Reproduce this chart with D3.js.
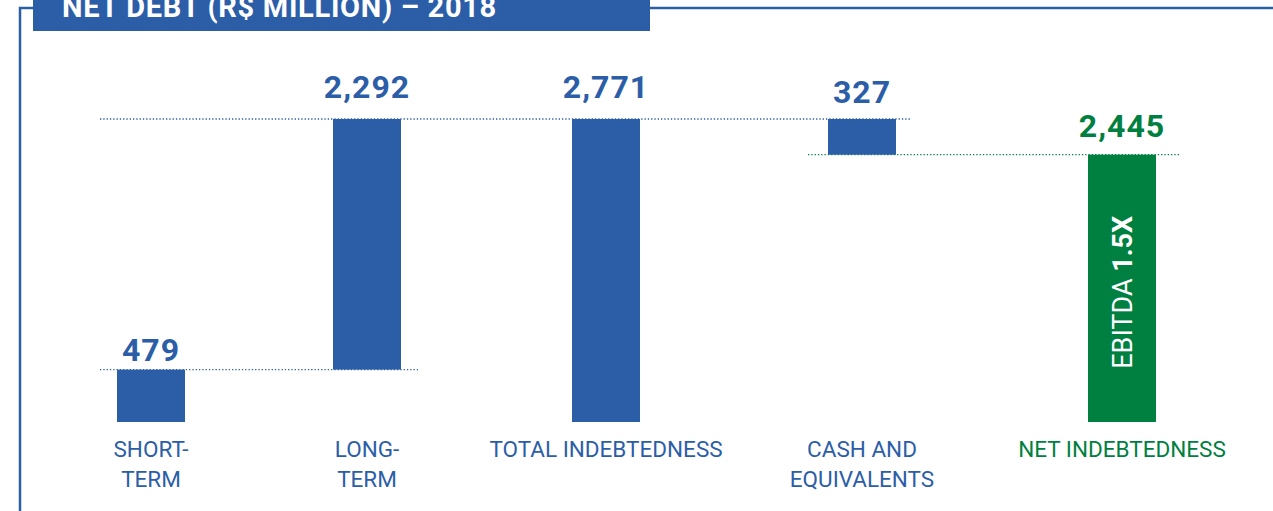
<!DOCTYPE html>
<html>
<head>
<meta charset="utf-8">
<script src="https://cdn.jsdelivr.net/npm/d3@7"></script>
<style>
  body { margin: 0; background: #fff; }
  svg { display: block; font-family: Roboto, "DejaVu Sans", sans-serif; }
</style>
</head>
<body>
<svg width="1273" height="511"></svg>
<script>
// Data
const categories = ["SHORT-TERM", "LONG-TERM", "TOTAL INDEBTEDNESS", "CASH AND EQUIVALENTS", "NET INDEBTEDNESS"];
const labelLines = [["SHORT-", "TERM"], ["LONG-", "TERM"], ["TOTAL INDEBTEDNESS"], ["CASH AND", "EQUIVALENTS"], ["NET INDEBTEDNESS"]];
const values = [479, 2292, 2771, 327, 2445];
const valueLabels = ["479", "2,292", "2,771", "327", "2,445"];
const kinds = ["up", "up", "total", "down", "net"];

const blue = "#2c5ea8", green = "#008040";

const svg = d3.select("svg");

// Frame + title
svg.append("path")
    .attr("d", "M20,511 V8 H40 M640,8 H1273")
    .attr("fill", "none")
    .attr("stroke", blue)
    .attr("stroke-width", 2.5);
svg.append("rect")
    .attr("x", 33).attr("y", -2).attr("width", 617).attr("height", 33)
    .attr("fill", blue);
svg.append("text")
    .attr("x", 62).attr("y", 17)
    .attr("fill", "#fff")
    .attr("font-weight", "bold")
    .attr("font-size", 29)
    .attr("letter-spacing", 0.7)
    .text("NET DEBT (R$ MILLION) – 2018");

// Compute waterfall spans
let running = 0;
const bars = values.map(function(v, i) {
    let y0, y1;
    if (kinds[i] === "up") { y0 = running; y1 = running + v; running = y1; }
    else if (kinds[i] === "total") { y0 = 0; y1 = running; }
    else if (kinds[i] === "down") { y1 = running; y0 = running - v; running = y0; }
    else { y0 = 0; y1 = v; }
    return {cat: categories[i], v: v, label: valueLabels[i], lines: labelLines[i], y0: y0, y1: y1, kind: kinds[i]};
});

// Scales
const xScale = d3.scaleOrdinal()
    .domain(categories)
    .range([151, 367, 606, 862, 1122]);
const barW = 68;
const yScale = d3.scaleLinear()
    .domain([0, d3.max(values)])
    .range([422, 119]);

const colorOf = function(d) { return d.kind === "net" ? green : blue; };
const labelGap = [9, 21, 21, 16, 18]; // distance of value label above bar top

// Dotted connector lines
const connectors = [
    {v: bars[0].y1, from: 0, to: 1, color: blue, l: 17, r: 17},
    {v: bars[2].y1, from: 0, to: 3, color: blue, l: 17, r: 14},
    {v: bars[4].y1, from: 3, to: 4, color: green, l: 20, r: 24}
];
svg.selectAll("line.conn")
    .data(connectors)
    .enter()
    .append("line")
    .attr("class", "conn")
    .attr("x1", function(d) { return xScale(categories[d.from]) - barW / 2 - d.l; })
    .attr("x2", function(d) { return xScale(categories[d.to]) + barW / 2 + d.r; })
    .attr("y1", function(d) { return yScale(d.v); })
    .attr("y2", function(d) { return yScale(d.v); })
    .attr("stroke", function(d) { return d.color; })
    .attr("stroke-width", 1.3)
    .attr("stroke-dasharray", "1.3,2");

// Bars
svg.selectAll("rect.bar")
    .data(bars)
    .enter()
    .append("rect")
    .attr("class", "bar")
    .attr("x", function(d) { return xScale(d.cat) - barW / 2; })
    .attr("y", function(d) { return yScale(d.y1); })
    .attr("width", barW)
    .attr("height", function(d) { return yScale(d.y0) - yScale(d.y1); })
    .attr("fill", colorOf);

// Value labels
svg.selectAll("text.val")
    .data(bars)
    .enter()
    .append("text")
    .attr("class", "val")
    .attr("x", function(d) { return xScale(d.cat); })
    .attr("y", function(d, i) { return yScale(d.y1) - labelGap[i]; })
    .attr("text-anchor", "middle")
    .attr("font-size", 32)
    .attr("font-weight", "bold")
    .attr("letter-spacing", 1)
    .attr("fill", colorOf)
    .text(function(d) { return d.label; });

// Category labels
const cats = svg.selectAll("text.cat")
    .data(bars)
    .enter()
    .append("text")
    .attr("class", "cat")
    .attr("x", function(d) { return xScale(d.cat); })
    .attr("y", 457)
    .attr("text-anchor", "middle")
    .attr("font-size", 22.5)
    .attr("fill", colorOf);
cats.selectAll("tspan")
    .data(function(d) { return d.lines.map(function(t) { return {t: t, x: xScale(d.cat)}; }); })
    .enter()
    .append("tspan")
    .attr("x", function(d) { return d.x; })
    .attr("dy", function(d, i) { return i === 0 ? 0 : 30; })
    .text(function(d) { return d.t; });

// EBITDA note inside net bar
const net = bars[4];
const noteY = (yScale(net.y0) + yScale(net.y1)) / 2 + 4;
const note = svg.append("text")
    .attr("transform", "translate(" + (xScale(net.cat) + 10) + "," + noteY + ") rotate(-90)")
    .attr("text-anchor", "middle")
    .attr("font-size", 27)
    .attr("fill", "#fff");
note.append("tspan").text("EBITDA ");
note.append("tspan").attr("font-weight", "bold").text("1.5X");
</script>
</body>
</html>
